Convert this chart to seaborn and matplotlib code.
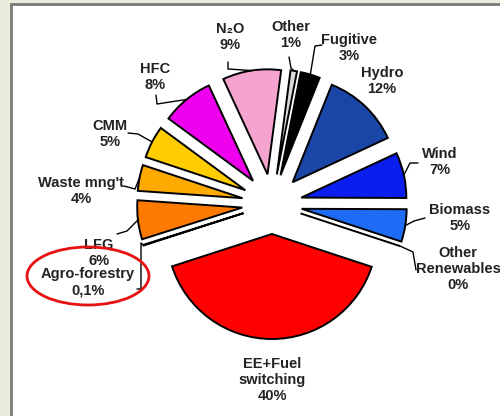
import matplotlib
matplotlib.use("Agg")
import matplotlib.pyplot as plt
import seaborn as sns
import numpy as np
from matplotlib.patches import Rectangle, Ellipse

# ---------------- data ----------------
categories = ["Other", "Fugitive", "Hydro", "Wind", "Biomass", "Other\nRenewables",
              "EE+Fuel\nswitching", "Agro-forestry", "LFG", "Waste mng't", "CMM", "HFC", "N₂O"]
shares = [1, 3, 12, 7, 5, 0, 40, 0.1, 6, 4, 5, 8, 9]
share_labels = ["1%", "3%", "12%", "7%", "5%", "0%", "40%", "0,1%", "6%", "4%", "5%", "8%", "9%"]
colors = ["#d9d9d9", "#000000", "#1a46a8", "#0a1ef0", "#1e6cf5", "#000000",
          "#ff0000", "#ff7a00", "#ff7a00", "#ffaa00", "#ffcc00", "#ee00ee", "#f5a3cf"]

# ---------------- layout (pixels, top-down) ----------------
W, H = 500, 416
label_pos = {
    "Other": (291, 35), "Fugitive": (349, 48), "Hydro": (382, 81), "Wind": (440, 162),
    "Biomass": (460, 218), "Other\nRenewables": (458, 269), "EE+Fuel\nswitching": (272, 380),
    "Agro-forestry": (88, 282), "LFG": (99, 253), "Waste mng't": (81, 191), "CMM": (110, 134),
    "HFC": (155, 77), "N₂O": (230, 37),
}
leaders = {
    "N₂O": [(228, 62), (228, 69)],
    "Other": [(289, 57), (291, 68)],
    "Fugitive": [(322, 45), (315, 46)],
    "HFC": [(156, 95), (157, 104)],
    "CMM": [(128, 133), (138, 134)],
    "Waste mng't": [(124, 186), (135, 189)],
    "LFG": [(117, 234), (127, 231)],
    "Agro-forestry": [(137, 289), (141, 289), (141, 243)],
    "Wind": [(418, 163), (410, 163)],
    "Biomass": [(425, 218), (414, 221)],
    "Other\nRenewables": [(416, 270), (413, 252)],
}

sns.set_theme(style="white")
plt.rcParams["font.family"] = ["Liberation Sans", "DejaVu Sans"]

fig = plt.figure(figsize=(5.0, 4.16), dpi=100)
fig.patch.set_facecolor("#e8ecdc")
ax = fig.add_axes([0, 0, 1, 1])
ax.set_facecolor("#e8ecdc")

def P(x, y):
    return (x, H - y)

# white panel with grey frame
ax.add_patch(Rectangle(P(11, 420), 520, 420 - 4, facecolor="white",
                       edgecolor="#7a7a7a", lw=2.0, zorder=0))

palette = sns.color_palette(colors)
wedges, _ = ax.pie(shares, colors=palette, startangle=82.5, counterclock=False,
                   radius=105, center=P(272, 204), explode=[30] * len(shares),
                   wedgeprops=dict(edgecolor="black", linewidth=1.4), frame=True)

ax.set_xlim(0, W)
ax.set_ylim(0, H)
ax.set_aspect("equal")
ax.axis("off")

for name, pct, w in zip(categories, share_labels, wedges):
    x, y = label_pos[name]
    ax.text(*P(x, y), f"{name}\n{pct}", ha="center", va="center", fontsize=10.5,
            fontweight="bold", color="#222222", linespacing=1.2, zorder=5)
    if name in leaders:
        pts = [P(*p) for p in leaders[name]]
        th = np.deg2rad(0.5 * (w.theta1 + w.theta2))
        cx, cy = w.center
        end = (cx + w.r * np.cos(th), cy + w.r * np.sin(th))
        pts.append(end)
        xs, ys = zip(*pts)
        ax.plot(xs, ys, color="black", lw=1.0, zorder=4)

ax.add_patch(Ellipse(P(88, 276), 122, 58, fill=False, edgecolor="#e81010", lw=2.0, zorder=6))

fig.savefig("out.png", dpi=100, facecolor=fig.get_facecolor())
